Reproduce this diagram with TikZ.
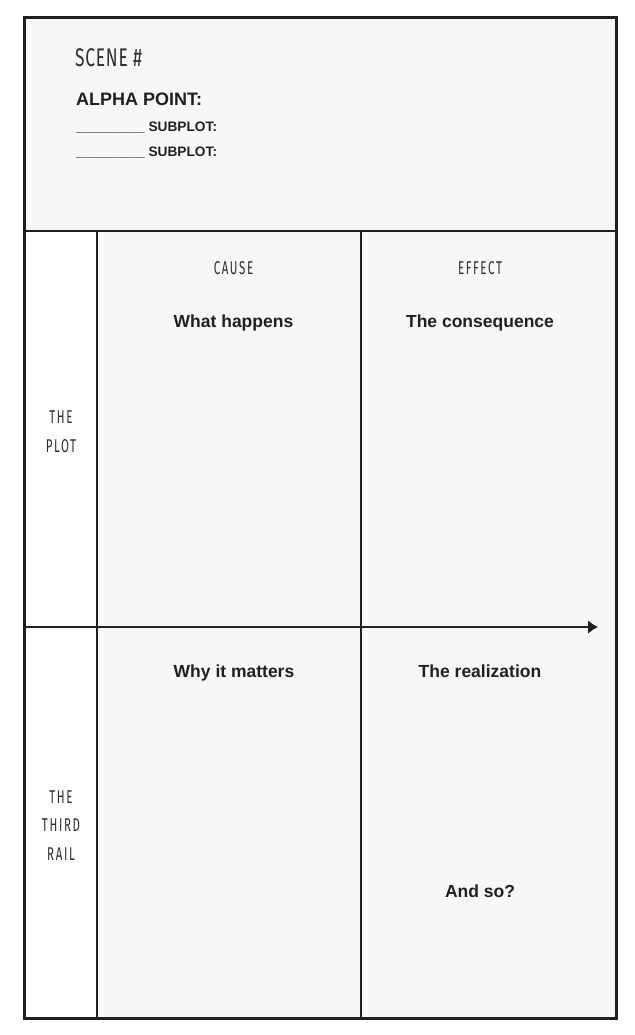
\documentclass[tikz,border=0pt]{standalone}
\usepackage{fontspec}
\setmainfont{Liberation Sans}
\newfontfamily\condfont[FakeStretch=0.62,LetterSpace=9]{Fira Sans}
\newfontfamily\scenefont[FakeStretch=0.68,LetterSpace=3]{Fira Sans}
\usepackage{tikz}
\usetikzlibrary{arrows.meta,positioning}
\definecolor{cellgray}{HTML}{F7F7F7}
\definecolor{ink}{HTML}{202020}
\definecolor{softink}{HTML}{2E2E2E}

\begin{document}
\begin{tikzpicture}[x=1pt,y=-1pt,
    frame/.style={draw=ink, line width=3pt},
    rule/.style={draw=ink, line width=2.4pt},
    bigcaps/.style={inner sep=0pt, text=softink, font=\scenefont\fontsize{25.5}{30}\selectfont},
    thincaps/.style={inner sep=0pt, text=softink, font=\condfont\fontsize{18.5}{20}\selectfont},
    headline/.style={inner sep=0pt, text=ink, font=\bfseries\fontsize{18}{22}\selectfont},
    subline/.style={inner sep=0pt, text=ink, font=\bfseries\fontsize{13.7}{16}\selectfont},
    prompt/.style={inner sep=0pt, text=ink, font=\bfseries\fontsize{17.5}{20}\selectfont}]
  \useasboundingbox (0,0) rectangle (634,1035);

  % panels
  \fill[cellgray] (24,18) rectangle (616,231);
  \fill[white] (24,231) rectangle (97,1018);
  \fill[cellgray] (97,231) rectangle (616,1018);

  % grid
  \draw[rule] (24,231) -- (616,231);
  \draw[rule] (97,231) -- (97,1018);
  \draw[rule] (361,231) -- (361,1018);
  \draw[frame] (24,18) rectangle (616,1018);

  % cause -> effect arrow
  \coordinate (arrowstart) at (24,627);
  \coordinate (arrowend) at (598,627);
  \draw[rule, -{Latex[length=10pt,width=14pt]}] (arrowstart) -- (arrowend);

  % header
  \node[bigcaps, anchor=base west] (scene) at (75,67) {SCENE \#};
  \node[headline, anchor=base west] (alpha) at (76,106) {ALPHA POINT:};
  \node[subline, below=26pt of alpha.base west, anchor=base west] (subplotA) {\_\_\_\_\_\_\_\_\_ SUBPLOT:};
  \node[subline, below=25pt of subplotA.base west, anchor=base west] (subplotB) {\_\_\_\_\_\_\_\_\_ SUBPLOT:};

  % column heads
  \node[thincaps, anchor=base] (cause) at (233.5,274) {CAUSE};
  \node[thincaps, anchor=base] (effect) at (480,274) {EFFECT};

  % row heads
  \node[thincaps, anchor=base] (plotA) at (61,423) {THE};
  \node[thincaps, below=29pt of plotA.base, anchor=base] (plotB) {PLOT};
  \node[thincaps, anchor=base] (railA) at (61,803) {THE};
  \node[thincaps, below=28.5pt of railA.base, anchor=base] (railB) {THIRD};
  \node[thincaps, below=28.5pt of railB.base, anchor=base] (railC) {RAIL};

  % prompts
  \node[prompt, anchor=base] (happens) at (233.5,327) {What happens};
  \node[prompt, anchor=base] (consequence) at (480,327) {The consequence};
  \node[prompt, anchor=base] (matters) at (234,677) {Why it matters};
  \node[prompt, anchor=base] (realization) at (480,677) {The realization};
  \node[prompt, anchor=base] (andso) at (480,897) {And so?};
\end{tikzpicture}
\end{document}
